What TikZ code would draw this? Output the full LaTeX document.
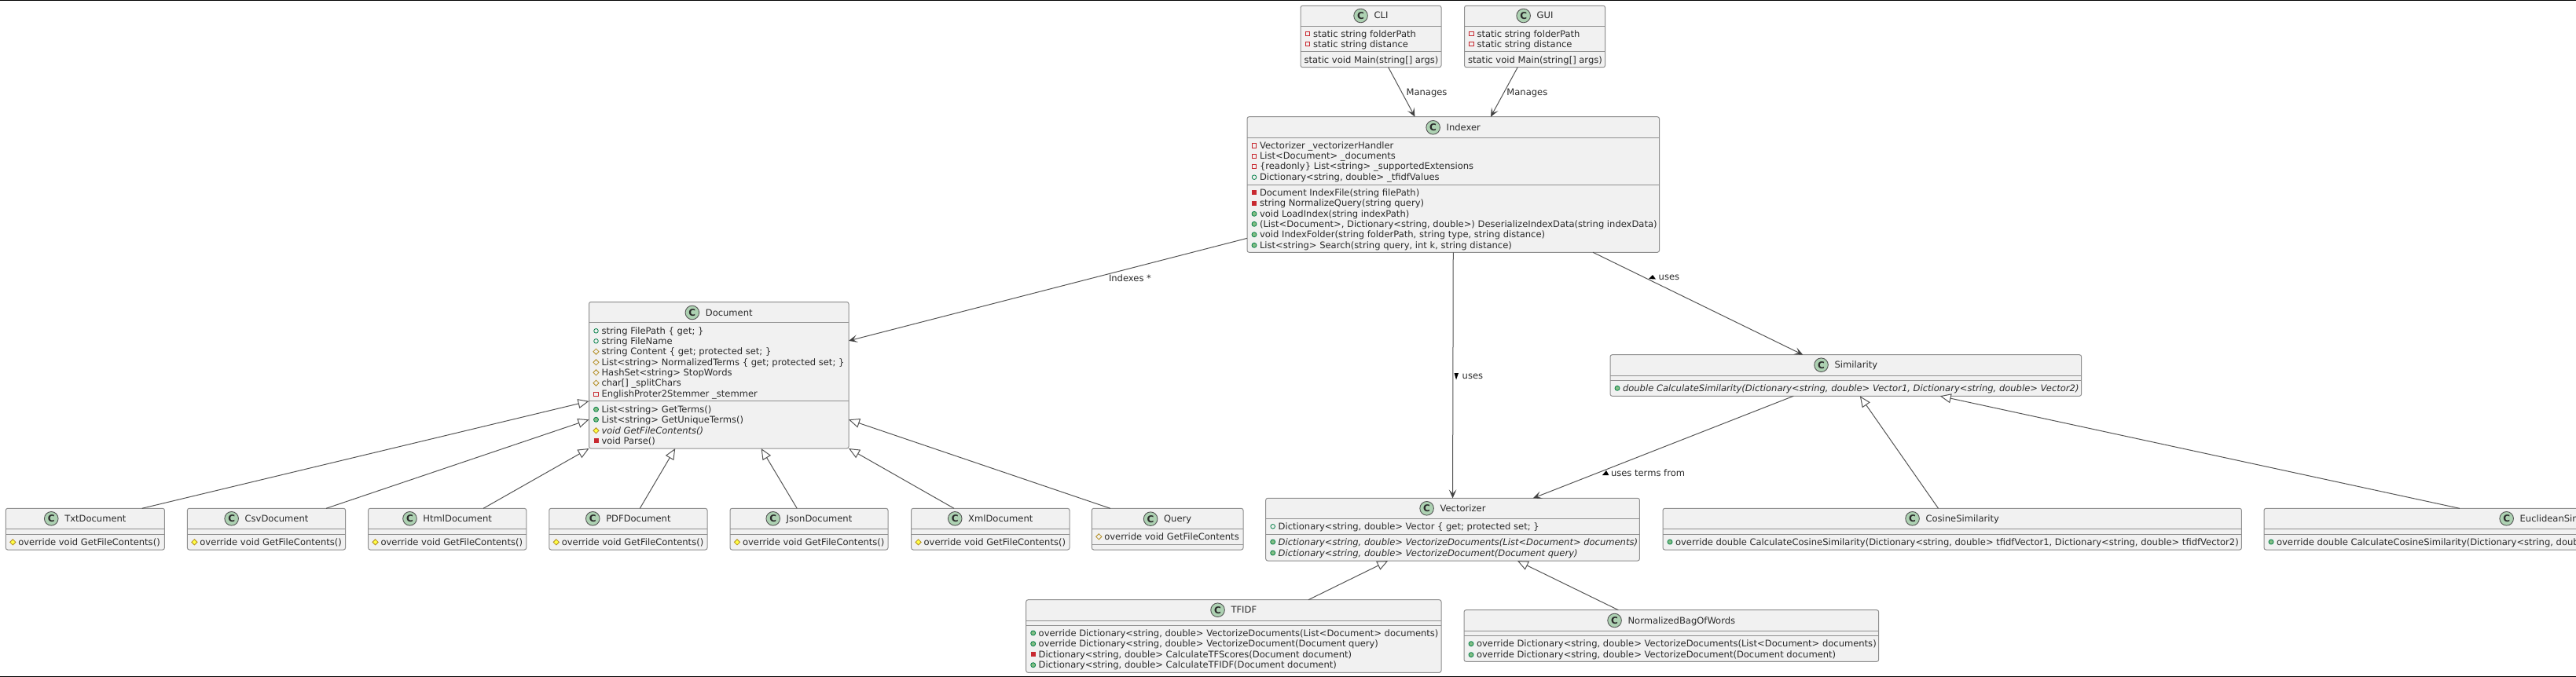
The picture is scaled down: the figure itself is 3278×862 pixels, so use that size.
\documentclass[tikz,border=0pt]{standalone}
\usepackage{fontspec}
\setmainfont{DejaVu Sans}
\usetikzlibrary{arrows.meta,calc}
\definecolor{boxfill}{HTML}{F1F1F1}
\definecolor{boxline}{HTML}{8F8F8F}
\definecolor{edge}{HTML}{555555}
\definecolor{ink}{HTML}{2A2A2A}
\definecolor{spot}{HTML}{ADD1B2}
\definecolor{ired}{HTML}{C82930}
\definecolor{igreen}{HTML}{038048}
\definecolor{igreenf}{HTML}{84BE84}
\definecolor{igold}{HTML}{B38D22}
\definecolor{igoldf}{HTML}{FFFF44}
\newcounter{rowno}
\tikzset{
  clsbox/.style={rectangle,draw=boxline,fill=boxfill,line width=.5pt,rounded corners=1.25pt,inner sep=0pt,outer sep=0pt,anchor=north west},
  clsrule/.style={draw=boxline,line width=.5pt},
  rowtext/.style={anchor=base west,inner sep=0pt,outer sep=0pt,text=ink,font=\fontsize{5.77pt}{7pt}\selectfont},
  ttl/.style={inner sep=0pt,outer sep=0pt,text=ink,anchor=base,font=\fontsize{5.77pt}{7pt}\selectfont},
  spotc/.style={circle,draw=ink!80,fill=spot,line width=.45pt,minimum size=8.8pt,inner sep=0pt,outer sep=0pt,text=ink,font=\fontsize{6pt}{7pt}\selectfont\bfseries},
  lbl/.style={anchor=base west,inner sep=0pt,outer sep=0pt,text=ink,font=\fontsize{5.77pt}{7pt}\selectfont},
  assoc/.style={draw=edge,line width=.5pt,-{Stealth[length=5.5pt,width=4.8pt,inset=2.6pt,fill=black!75,color=black!75]}},
  inherit/.style={draw=edge,line width=.5pt,-{Triangle[length=7pt,width=6pt,fill=white,color=edge,line width=.5pt]}},
}
% name, x1, y1, x2, y2, header rule, section rule, title y, title
\newcommand\umlcls[9]{%
  \node[clsbox,minimum width={(#4-#2)*0.5pt},minimum height={(#5-#3)*0.5pt}] (#1) at (#2,#3) {};
  \draw[clsrule] (#2,#6) -- (#4,#6);
  \draw[clsrule] (#2,#7) -- (#4,#7);
  \node[ttl] (#1T) at ({(#2+#4)/2+13},{#8+4}) {#9};
  \node[spotc] (#1C) at ($(#1T.base west)+(-17,-4)$) {C};
}
\newcommand\iconpf[2]{\draw[ired,line width=.4pt] ({#1-2.7},{#2-2.7}) rectangle ({#1+2.7},{#2+2.7});}
\newcommand\iconpm[2]{\fill[ired] ({#1-3},{#2-3}) rectangle ({#1+3},{#2+3});}
\newcommand\iconuf[2]{\draw[igreen,line width=.4pt] (#1,#2) circle (1.4pt);}
\newcommand\iconum[2]{\draw[igreen,fill=igreenf,line width=.4pt] (#1,#2) circle (1.5pt);}
\newcommand\icontf[2]{\draw[igold,line width=.4pt] ({#1-3.6},#2) -- (#1,{#2-3.6}) -- ({#1+3.6},#2) -- (#1,{#2+3.6}) -- cycle;}
\newcommand\icontm[2]{\draw[igold,fill=igoldf,line width=.4pt] ({#1-3.6},#2) -- (#1,{#2-3.6}) -- ({#1+3.6},#2) -- (#1,{#2+3.6}) -- cycle;}
% kind, box left, y, text
\newcommand\rowp[4]{%
  \stepcounter{rowno}%
  \csname icon#1\endcsname{#2+9}{#3}
  \node[rowtext] (row\therowno) at ({#2+16},{#3+4}) {#4};
}
\newcommand\rowplain[3]{%
  \stepcounter{rowno}%
  \node[rowtext] (row\therowno) at ({#1+4.6},{#2+4}) {#3};
}
% style, node a, side a, fraction a, node b, side b, fraction b
\newcommand\lnk[7]{\draw[#1] ($(#2.#3 west)!#4!(#2.#3 east)$) -- ($(#5.#6 west)!#7!(#5.#6 east)$);}
\begin{document}
\begin{tikzpicture}[x=0.5pt,y=-0.5pt]
\useasboundingbox (0,0) rectangle (3278,862);
\clip (0,0) rectangle (3278,862);
\fill[white] (0,0) rectangle (3278,862);
\fill[black] (0,0) rectangle (3278,1);
\fill[black] (0,860.7) rectangle (3278,862);

% CLI / GUI
\umlcls{cli}{1655}{7.3}{1834}{85.7}{33.3}{65.7}{20}{CLI}
\rowp{pf}{1655}{43}{static string folderPath}
\rowp{pf}{1655}{56}{static string distance}
\rowplain{1655}{76.3}{static void Main(string[] args)}
\umlcls{gui}{1863.5}{7.3}{2042.6}{85.7}{33.3}{65.7}{20}{GUI}
\rowp{pf}{1863.5}{43}{static string folderPath}
\rowp{pf}{1863.5}{56}{static string distance}
\rowplain{1863.5}{76.3}{static void Main(string[] args)}

% Indexer
\umlcls{idx}{1587}{148.7}{2111.5}{321.3}{175}{235.3}{162.3}{Indexer}
\rowp{pf}{1587}{185.3}{Vectorizer \_vectorizerHandler}
\rowp{pf}{1587}{198.7}{List<Document> \_documents}
\rowp{pf}{1587}{211.7}{\{readonly\} List<string> \_supportedExtensions}
\rowp{uf}{1587}{225.7}{Dictionary<string, double> \_tfidfValues}
\rowp{pm}{1587}{245.3}{Document IndexFile(string filePath)}
\rowp{pm}{1587}{258.7}{string NormalizeQuery(string query)}
\rowp{um}{1587}{272.3}{void LoadIndex(string indexPath)}
\rowp{um}{1587}{285.3}{(List<Document>, Dictionary<string, double>) DeserializeIndexData(string indexData)}
\rowp{um}{1587}{298.7}{void IndexFolder(string folderPath, string type, string distance)}
\rowp{um}{1587}{312.3}{List<string> Search(string query, int k, string distance)}

% Document
\umlcls{doc}{749.5}{384.5}{1080}{571}{410.7}{510.7}{398}{Document}
\rowp{uf}{749.5}{421.3}{string FilePath \{ get; \}}
\rowp{uf}{749.5}{434.3}{string FileName}
\rowp{tf}{749.5}{447.7}{string Content \{ get; protected set; \}}
\rowp{tf}{749.5}{461.3}{List<string> NormalizedTerms \{ get; protected set; \}}
\rowp{tf}{749.5}{474.3}{HashSet<string> StopWords}
\rowp{tf}{749.5}{487.7}{char[] \_splitChars}
\rowp{pf}{749.5}{501.7}{EnglishProter2Stemmer \_stemmer}
\rowp{um}{749.5}{521.3}{List<string> GetTerms()}
\rowp{um}{749.5}{534.3}{List<string> GetUniqueTerms()}
\rowp{tm}{749.5}{548.3}{\itshape void GetFileContents()}
\rowp{pm}{749.5}{561.3}{void Parse()}

% Document subclasses
\umlcls{txt}{7.3}{647.3}{209.4}{700}{673.3}{680}{660.3}{TxtDocument}
\rowp{tm}{7.3}{690.3}{override void GetFileContents()}
\umlcls{csv}{238.4}{647.3}{439.6}{700}{673.3}{680}{660.3}{CsvDocument}
\rowp{tm}{238.4}{690.3}{override void GetFileContents()}
\umlcls{html}{468.6}{647.3}{669.8}{700}{673.3}{680}{660.3}{HtmlDocument}
\rowp{tm}{468.6}{690.3}{override void GetFileContents()}
\umlcls{pdf}{698.8}{647.3}{900}{700}{673.3}{680}{660.3}{PDFDocument}
\rowp{tm}{698.8}{690.3}{override void GetFileContents()}
\umlcls{json}{929}{647.3}{1130}{700}{673.3}{680}{660.3}{JsonDocument}
\rowp{tm}{929}{690.3}{override void GetFileContents()}
\umlcls{xml}{1159.6}{647.3}{1361}{700}{673.3}{680}{660.3}{XmlDocument}
\rowp{tm}{1159.6}{690.3}{override void GetFileContents()}
\umlcls{query}{1389.3}{647.3}{1582}{700}{673.3}{693.3}{660.7}{Query}
\rowp{tf}{1389.3}{683.3}{override void GetFileContents}

% Vectorizer family
\umlcls{vec}{1610.7}{634.3}{2086.4}{714}{660.7}{680.3}{647.3}{Vectorizer}
\rowp{uf}{1610.7}{670.3}{Dictionary<string, double> Vector \{ get; protected set; \}}
\rowp{um}{1610.7}{690}{\itshape Dictionary<string, double> VectorizeDocuments(List<Document> documents)}
\rowp{um}{1610.7}{704}{\itshape Dictionary<string, double> VectorizeDocument(Document query)}
\umlcls{tfidf}{1305.7}{763.7}{1834}{856.3}{790}{796.3}{776.7}{TFIDF}
\rowp{um}{1305.7}{806}{override Dictionary<string, double> VectorizeDocuments(List<Document> documents)}
\rowp{um}{1305.7}{819.7}{override Dictionary<string, double> VectorizeDocument(Document query)}
\rowp{pm}{1305.7}{833.3}{Dictionary<string, double> CalculateTFScores(Document document)}
\rowp{um}{1305.7}{846.7}{Dictionary<string, double> CalculateTFIDF(Document document)}
\umlcls{nbow}{1863}{776.7}{2390.7}{842.3}{803}{809.7}{790}{NormalizedBagOfWords}
\rowp{um}{1863}{819.7}{override Dictionary<string, double> VectorizeDocuments(List<Document> documents)}
\rowp{um}{1863}{833.7}{override Dictionary<string, double> VectorizeDocument(Document document)}

% Similarity family
\umlcls{sim}{2049}{451.7}{2648.6}{504.3}{478}{484.3}{464.7}{Similarity}
\rowp{um}{2049}{494.3}{\itshape double CalculateSimilarity(Dictionary<string, double> Vector1, Dictionary<string, double> Vector2)}
\umlcls{cos}{2116}{647.3}{2852.4}{700}{673.3}{680}{660.3}{CosineSimilarity}
\rowp{um}{2116}{690}{override double CalculateCosineSimilarity(Dictionary<string, double> tfidfVector1, Dictionary<string, double> tfidfVector2)}
\umlcls{euc}{2881}{647.3}{3617}{700}{673.3}{680}{660.3}{EuclideanSimilarity}
\rowp{um}{2881}{690}{override double CalculateCosineSimilarity(Dictionary<string, double> tfidfVector1, Dictionary<string, double> tfidfVector2)}

% Associations
\lnk{assoc}{cli}{south}{.624}{idx}{north}{.407}
\lnk{assoc}{gui}{south}{.378}{idx}{north}{.591}
\draw[assoc] ($(idx.north west)!.896!(idx.south west)$) -- ($(doc.north east)!.265!(doc.south east)$);
\draw[assoc] (idx.south) -- (vec.north);
\lnk{assoc}{idx}{south}{.839}{sim}{north}{.409}
\lnk{assoc}{sim}{south}{.389}{vec}{north}{.715}

% Generalisations
\draw[inherit] ($(txt.north west)!.858!(txt.north east)$) -- ($(doc.north west)!.677!(doc.south west)$);
\draw[inherit] ($(csv.north west)!.878!(csv.north east)$) -- ($(doc.north west)!.803!(doc.south west)$);
\draw[inherit] ($(html.north west)!.728!(html.north east)$) -- (doc.south west);
\lnk{inherit}{pdf}{north}{.574}{doc}{south}{.332}
\lnk{inherit}{json}{north}{.424}{doc}{south}{.663}
\draw[inherit] ($(xml.north west)!.27!(xml.north east)$) -- (doc.south east);
\draw[inherit] ($(query.north west)!.122!(query.north east)$) -- ($(doc.north east)!.803!(doc.south east)$);
\lnk{inherit}{cos}{north}{.476}{sim}{south}{.53}
\lnk{inherit}{euc}{north}{.338}{sim}{south}{.70}
\lnk{inherit}{tfidf}{north}{.68}{vec}{south}{.327}
\lnk{inherit}{nbow}{north}{.372}{vec}{south}{.673}

% Labels
\node[lbl] (l1) at (1789.6,121.7) {Manages};
\node[lbl] (l2) at (1917.4,121.7) {Manages};
\node[lbl] (l3) at (1411,358) {Indexes *};
\node[lbl] (l4) at (1860.7,482.3) {uses};
\node[lbl] (l5) at (2110.7,356.7) {uses};
\node[lbl] (l6) at (2050,606.7) {uses terms from};
\fill[black] (1850.5,475) -- (1856,475) -- (1853,483.5) -- cycle;
\fill[black] (2098,355) -- (2103,350) -- (2107,355.5) -- cycle;
\fill[black] (2039,605) -- (2047.3,605) -- (2044,599) -- cycle;
\end{tikzpicture}
\end{document}
